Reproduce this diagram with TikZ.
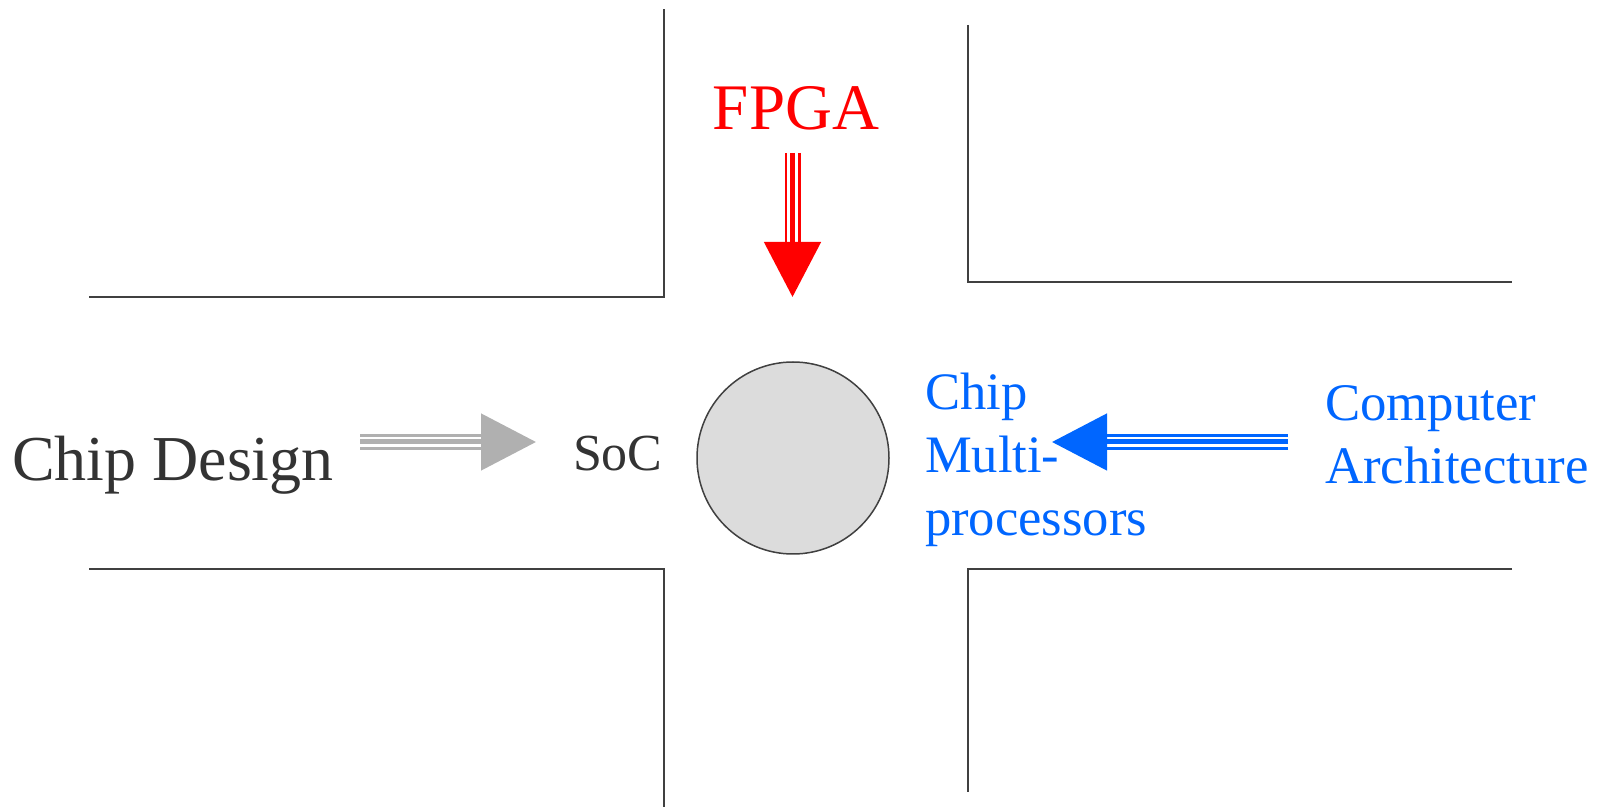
\documentclass[tikz,border=0pt]{standalone}
\usepackage{fontspec}
\setmainfont{Liberation Serif}
\usetikzlibrary{arrows.meta}
\definecolor{framec}{HTML}{404040}
\definecolor{txtc}{HTML}{333333}
\definecolor{arrgray}{HTML}{B0B0B0}
\definecolor{arrred}{HTML}{FF0000}
\definecolor{arrblue}{HTML}{0066FF}
\tikzset{
  frame/.style={draw=framec, line width=0.8pt},
  triple/.style={line width=1.35pt, double=white, double distance=5.3pt,
     shorten >=27pt,
     postaction={draw=#1, line width=2.5pt, double=none, shorten >=0pt,
       -{Triangle[length=27.5pt,width=28pt]}}},
  lbl/.style={inner sep=0pt, outer sep=0pt},
}
\begin{document}
\begin{tikzpicture}[x=0.5pt,y=-0.5pt]
\useasboundingbox (0,0) rectangle (1602,807);
% frame corners
\draw[frame] (89,297) -- (664,297) -- (664,9);
\draw[frame] (968,25) -- (968,282) -- (1512,282);
\draw[frame] (89,569) -- (664,569) -- (664,807);
\draw[frame] (1512,569) -- (968,569) -- (968,792);
% center circle
\node[circle, draw=framec, line width=0.75pt, fill={rgb,255:red,220;green,220;blue,220},
  minimum size=96pt, inner sep=0pt] (core) at (793,458) {};
% labels
\node[lbl, anchor=base west, text=txtc, font=\fontsize{32}{38}\selectfont] (cd) at (12,481) {Chip Design};
\node[lbl, anchor=base west, text=txtc, font=\fontsize{26}{31}\selectfont] (soc) at (573,471) {SoC};
\node[lbl, anchor=base, text=arrred, font=\fontsize{32.5}{39}\selectfont] (fpga) at (796,130) {FPGA};
\node[lbl, anchor=base west, align=left, text=arrblue, font=\fontsize{26.3}{31.5}\selectfont] (cmp) at (925,536) {Chip\\Multi-\\processors};
\node[lbl, anchor=base west, align=left, text=arrblue, font=\fontsize{26.4}{31.5}\selectfont] (ca) at (1325,484) {Computer\\Architecture};
% arrows
\coordinate (g1) at (360,442); \coordinate (g2) at (536,442);
\coordinate (r1) at (792.5,153); \coordinate (r2) at (792.5,297);
\coordinate (b1) at (1288,442); \coordinate (b2) at (1052,442);
\draw[arrgray, triple=arrgray] (g1) -- (g2);
\draw[arrred, triple=arrred] (r1) -- (r2);
\draw[arrblue, triple=arrblue] (b1) -- (b2);
\end{tikzpicture}
\end{document}
